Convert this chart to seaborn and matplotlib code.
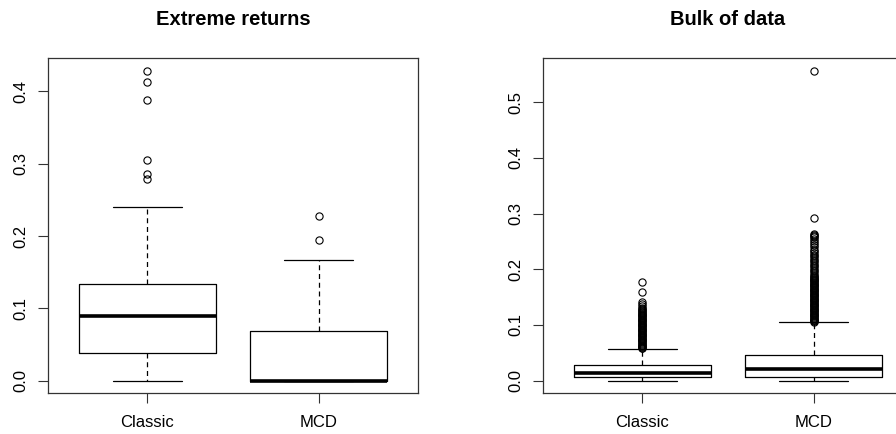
import numpy as np
import seaborn as sns
import matplotlib.pyplot as plt

# group labels
groups = ["Classic", "MCD"]

# Extreme returns: box stats
ext_whislo = [0.0, 0.0]
ext_q1 = [0.0388, 0.0]
ext_med = [0.089, 0.0]
ext_q3 = [0.1333, 0.0692]
ext_whishi = [0.2394, 0.1661]
ext_fliers_classic = [0.4277, 0.4129, 0.388, 0.305, 0.2851, 0.2791]
ext_fliers_mcd = [0.2279, 0.1938]

# Bulk of data: box stats
bulk_whislo = [0.0, 0.0]
bulk_q1 = [0.006, 0.0072]
bulk_med = [0.0132, 0.0216]
bulk_q3 = [0.0276, 0.0462]
bulk_whishi = [0.0576, 0.1055]
bulk_fliers_classic = [0.1769, 0.1595, 0.142, 0.138, 0.134, 0.131, 0.128,
                       0.126, 0.1245, 0.123, 0.1215, 0.120, 0.1185, 0.117,
                       0.1155, 0.114, 0.1125, 0.111, 0.1095, 0.108, 0.1065,
                       0.105, 0.1035, 0.102, 0.1005, 0.099, 0.0975, 0.096,
                       0.0945, 0.093, 0.0915, 0.090, 0.0885, 0.087, 0.0855,
                       0.084, 0.0825, 0.081, 0.0795, 0.078, 0.0765, 0.075,
                       0.0735, 0.072, 0.0705, 0.069, 0.0675, 0.066, 0.0645,
                       0.063, 0.0615, 0.060, 0.059, 0.058]
bulk_fliers_mcd = [0.5552, 0.292, 0.264, 0.262, 0.260, 0.258, 0.255, 0.251,
                   0.247, 0.243, 0.239, 0.235, 0.232, 0.229, 0.226, 0.223,
                   0.220, 0.217, 0.214, 0.211, 0.208, 0.205, 0.202, 0.199,
                   0.196, 0.193, 0.190, 0.1875, 0.186, 0.1845, 0.183,
                   0.1815, 0.180, 0.1785, 0.177, 0.1755, 0.174, 0.1725,
                   0.171, 0.1695, 0.168, 0.1665, 0.165, 0.1635, 0.162,
                   0.1605, 0.159, 0.1575, 0.156, 0.1545, 0.153, 0.1515,
                   0.150, 0.1485, 0.147, 0.1455, 0.144, 0.1425, 0.141,
                   0.1395, 0.138, 0.1365, 0.135, 0.1335, 0.132, 0.1305,
                   0.129, 0.1275, 0.126, 0.1245, 0.123, 0.1215, 0.120,
                   0.1185, 0.117, 0.1155, 0.114, 0.1125, 0.111, 0.1095,
                   0.108, 0.107, 0.106]

sns.set_style("white")
plt.rcParams["font.family"] = ["Liberation Sans", "DejaVu Sans"]


def make_stats(lo, q1, med, q3, hi, fliers):
    return [dict(label=groups[i], whislo=lo[i], q1=q1[i], med=med[i],
                 q3=q3[i], whishi=hi[i], fliers=fliers[i])
            for i in range(len(groups))]


def draw(ax, stats, title, ylim, yticks):
    ax.bxp(stats, positions=[1, 2], widths=0.8, showfliers=True,
           boxprops=dict(color="black", linewidth=0.9),
           medianprops=dict(color="black", linewidth=2.6, solid_capstyle="butt"),
           whiskerprops=dict(color="black", linewidth=0.9, linestyle=(0, (4, 3))),
           capprops=dict(color="black", linewidth=0.9),
           capwidths=0.4,
           flierprops=dict(marker="o", markerfacecolor="none",
                           markeredgecolor="black", markersize=5.2,
                           markeredgewidth=0.8))
    ax.set_xlim(0.42, 2.58)
    ax.set_ylim(*ylim)
    ax.set_yticks(yticks)
    ax.set_yticklabels([f"{t:.1f}" for t in yticks], rotation=90, va="center")
    ax.set_xticks([1, 2])
    ax.set_xticklabels(groups)
    ax.tick_params(axis="both", direction="out", length=7, width=0.8,
                   color="#333333", labelsize=12, labelcolor="black",
                   left=True, bottom=True)
    ax.tick_params(axis="y", pad=7)
    ax.tick_params(axis="x", pad=9)
    for s in ax.spines.values():
        s.set_color("#333333")
        s.set_linewidth(0.9)
    ax.set_title(title, fontsize=14.5, fontweight="bold", pad=24, color="black")


fig = plt.figure(figsize=(8.96, 4.34), dpi=100)
ax1 = fig.add_axes([48 / 896, 41 / 434, 370 / 896, 335 / 434])
ax2 = fig.add_axes([543 / 896, 41 / 434, 370 / 896, 335 / 434])

draw(ax1, make_stats(ext_whislo, ext_q1, ext_med, ext_q3, ext_whishi,
                     [ext_fliers_classic, ext_fliers_mcd]),
     "Extreme returns", (-0.0172, 0.4462), [0.0, 0.1, 0.2, 0.3, 0.4])
draw(ax2, make_stats(bulk_whislo, bulk_q1, bulk_med, bulk_q3, bulk_whishi,
                     [bulk_fliers_classic, bulk_fliers_mcd]),
     "Bulk of data", (-0.0223, 0.5793), [0.0, 0.1, 0.2, 0.3, 0.4, 0.5])

fig.savefig("out.png", dpi=100)
